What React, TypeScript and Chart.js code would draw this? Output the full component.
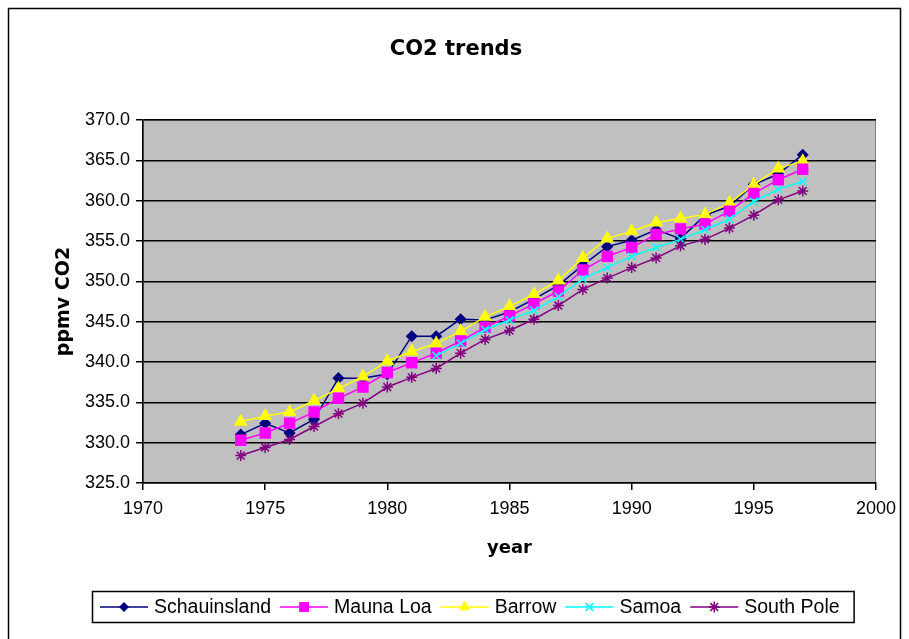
import React, { useEffect, useRef } from 'react';
import { Chart, registerables } from 'chart.js';

Chart.register(...registerables);

const years = [1974, 1975, 1976, 1977, 1978, 1979, 1980, 1981, 1982, 1983, 1984, 1985, 1986, 1987, 1988, 1989, 1990, 1991, 1992, 1993, 1994, 1995, 1996, 1997];
const schauinsland = [331.0, 332.4, 331.2, 332.9, 338.0, 338.0, 338.5, 343.2, 343.2, 345.3, 345.2, 346.2, 347.8, 349.5, 352.0, 354.3, 355.1, 356.4, 355.3, 358.2, 359.3, 362.0, 363.3, 365.7];
const maunaLoa = [330.3, 331.2, 332.4, 333.8, 335.5, 336.9, 338.7, 339.9, 341.1, 342.6, 344.3, 345.7, 347.2, 348.8, 351.4, 353.1, 354.2, 355.8, 356.5, 357.1, 358.7, 360.9, 362.6, 363.9];
const barrow = [332.6, 333.3, 333.8, 335.2, 336.7, 338.2, 340.1, 341.3, 342.3, 343.8, 345.6, 346.9, 348.4, 350.1, 352.9, 355.3, 356.2, 357.3, 357.8, 358.3, 359.7, 362.0, 364.0, 364.9];
const samoa = [null, null, null, null, null, null, null, null, 340.8, 342.3, 344.0, 345.2, 346.4, 348.1, 350.3, 351.7, 353.1, 354.2, 355.2, 356.4, 357.7, 359.9, 361.4, 362.4];
const southPole = [328.4, 329.4, 330.4, 332.0, 333.6, 334.9, 336.9, 338.1, 339.2, 341.1, 342.8, 343.9, 345.3, 347.0, 349.0, 350.4, 351.7, 352.9, 354.4, 355.2, 356.6, 358.2, 360.1, 361.2];

const seriesNames = ['Schauinsland', 'Mauna Loa', 'Barrow', 'Samoa', 'South Pole'];
const seriesValues = [schauinsland, maunaLoa, barrow, samoa, southPole];
const seriesColors = ['#000080', '#FF00FF', '#FFFF00', '#00FFFF', '#800080'];
const seriesMarkers = ['rectRot', 'rect', 'triangle', 'crossRot', 'star'];
const seriesRadius = [5, 7, 6.5, 5.5, 5.5];
const seriesOrder = [5, 3, 4, 2, 1];

const titleText = 'CO2 trends';
const xTitle = 'year';
const yTitle = 'ppmv CO2';
const xMin = 1970, xMax = 2000, xStep = 5;
const yMin = 325, yMax = 370, yStep = 5;

const FONT = '"Liberation Sans", Arial, sans-serif';
const BOLD_FONT = '"DejaVu Sans", Verdana, sans-serif';

function drawMarker(ctx: CanvasRenderingContext2D, style: string, x: number, y: number, r: number, color: string) {
  ctx.save();
  ctx.fillStyle = color;
  ctx.strokeStyle = color;
  ctx.lineWidth = 1.5;
  ctx.beginPath();
  if (style === 'rectRot') {
    ctx.moveTo(x - r, y); ctx.lineTo(x, y - r); ctx.lineTo(x + r, y); ctx.lineTo(x, y + r); ctx.closePath();
    ctx.fill();
  } else if (style === 'rect') {
    const s = r * Math.SQRT1_2;
    ctx.rect(x - s, y - s, 2 * s, 2 * s); ctx.fill();
  } else if (style === 'triangle') {
    const a = r * Math.sin(Math.PI / 3);
    ctx.moveTo(x, y - r); ctx.lineTo(x + a, y + r / 2); ctx.lineTo(x - a, y + r / 2); ctx.closePath(); ctx.fill();
  } else if (style === 'crossRot') {
    const d = r * Math.SQRT1_2;
    ctx.moveTo(x - d, y - d); ctx.lineTo(x + d, y + d); ctx.moveTo(x + d, y - d); ctx.lineTo(x - d, y + d); ctx.stroke();
  } else {
    const d = r * Math.SQRT1_2;
    ctx.moveTo(x - d, y - d); ctx.lineTo(x + d, y + d); ctx.moveTo(x + d, y - d); ctx.lineTo(x - d, y + d);
    ctx.moveTo(x, y - r); ctx.lineTo(x, y + r); ctx.moveTo(x - r, y); ctx.lineTo(x + r, y); ctx.stroke();
  }
  ctx.restore();
}

const framePlugin = {
  id: 'frame',
  beforeDraw(chart: any) {
    const { ctx, chartArea: a } = chart;
    ctx.save();
    ctx.fillStyle = '#ffffff';
    ctx.fillRect(0, 0, chart.width, chart.height);
    ctx.strokeStyle = '#000000';
    ctx.lineWidth = 1.5;
    ctx.strokeRect(8.5, 8.5, 892, 660);
    ctx.fillStyle = '#C0C0C0';
    ctx.fillRect(a.left, a.top, a.right - a.left, a.bottom - a.top);
    ctx.strokeStyle = '#808080';
    ctx.lineWidth = 1;
    ctx.strokeRect(a.left + 0.5, a.top + 0.5, a.right - a.left - 1, a.bottom - a.top - 1);
    ctx.restore();
  },
  afterDraw(chart: any) {
    const { ctx } = chart;
    ctx.save();
    ctx.fillStyle = '#000';
    ctx.font = `bold 21px ${BOLD_FONT}`;
    ctx.textAlign = 'center';
    ctx.textBaseline = 'middle';
    ctx.fillText(titleText, 456, 50);
    ctx.font = `19.5px ${FONT}`;
    ctx.textAlign = 'left';
    const lineLen = 48, gapText = 6, gapItem = 9;
    let x = 100;
    const y = 607;
    const positions: number[] = [];
    let lastEnd = x;
    seriesNames.forEach((n) => {
      positions.push(x);
      lastEnd = x + lineLen + gapText + ctx.measureText(n).width;
      x = lastEnd + gapItem;
    });
    const boxLeft = 92, boxRight = lastEnd + 14;
    ctx.strokeStyle = '#000';
    ctx.lineWidth = 1.5;
    ctx.strokeRect(boxLeft + 0.5, 591.5, boxRight - boxLeft, 31);
    seriesNames.forEach((n, i) => {
      const px = positions[i];
      ctx.strokeStyle = seriesColors[i];
      ctx.lineWidth = 1.5;
      ctx.beginPath();
      ctx.moveTo(px, y);
      ctx.lineTo(px + lineLen, y);
      ctx.stroke();
      drawMarker(ctx, seriesMarkers[i], px + lineLen / 2, y, seriesRadius[i], seriesColors[i]);
      ctx.fillStyle = '#000';
      ctx.fillText(n, px + lineLen + gapText, y + 1);
    });
    ctx.restore();
  },
};

export default function App() {
  const ref = useRef<HTMLCanvasElement | null>(null);
  useEffect(() => {
    if (!ref.current) return;
    const datasets = seriesNames.map((name, i) => ({
      label: name,
      data: years.map((yr, j) => ({ x: yr, y: seriesValues[i][j] })),
      borderColor: seriesColors[i],
      backgroundColor: seriesColors[i],
      pointBackgroundColor: seriesColors[i],
      pointBorderColor: seriesColors[i],
      pointStyle: seriesMarkers[i],
      pointRadius: seriesRadius[i],
      pointBorderWidth: 1.5,
      borderWidth: 1.5,
      order: seriesOrder[i],
      spanGaps: false,
      tension: 0,
    }));
    const chart = new Chart(ref.current, {
      type: 'line',
      data: { datasets },
      plugins: [framePlugin],
      options: {
        animation: false,
        responsive: false,
        devicePixelRatio: 1,
        layout: { padding: { left: 53, right: 33, top: 120, bottom: 80 } },
        plugins: {
          legend: { display: false },
          title: { display: false },
          tooltip: { enabled: false },
        },
        scales: {
          x: {
            type: 'linear',
            min: xMin,
            max: xMax,
            afterFit: (s: any) => { s.height = 76; },
            ticks: { stepSize: xStep, color: '#000', font: { family: FONT, size: 18 }, padding: 8, maxRotation: 0, callback: (v: any) => String(v) },
            grid: { drawOnChartArea: false, drawTicks: true, tickLength: 7, color: '#000', lineWidth: 1.5 },
            border: { display: true, color: '#000', width: 1.5 },
            title: { display: true, text: xTitle, color: '#000', font: { family: BOLD_FONT, size: 18, weight: 'bold' }, padding: 0 },
          },
          y: {
            type: 'linear',
            min: yMin,
            max: yMax,
            afterFit: (s: any) => { s.width = 90; },
            ticks: { stepSize: yStep, color: '#000', font: { family: FONT, size: 18 }, padding: 6, callback: (v: any) => Number(v).toFixed(1) },
            grid: { drawOnChartArea: true, drawTicks: true, tickLength: 7, color: '#000', lineWidth: 1.5 },
            border: { display: true, color: '#000', width: 1.5 },
            title: { display: true, text: yTitle, color: '#000', font: { family: BOLD_FONT, size: 19, weight: 'bold' }, padding: 0 },
          },
        },
      } as any,
    });
    return () => chart.destroy();
  }, []);
  return (
    <div style={{ position: 'fixed', left: 0, top: 0, width: 909, height: 639 }}>
      <canvas ref={ref} width={909} height={639} style={{ width: 909, height: 639, display: 'block' }} />
    </div>
  );
}
